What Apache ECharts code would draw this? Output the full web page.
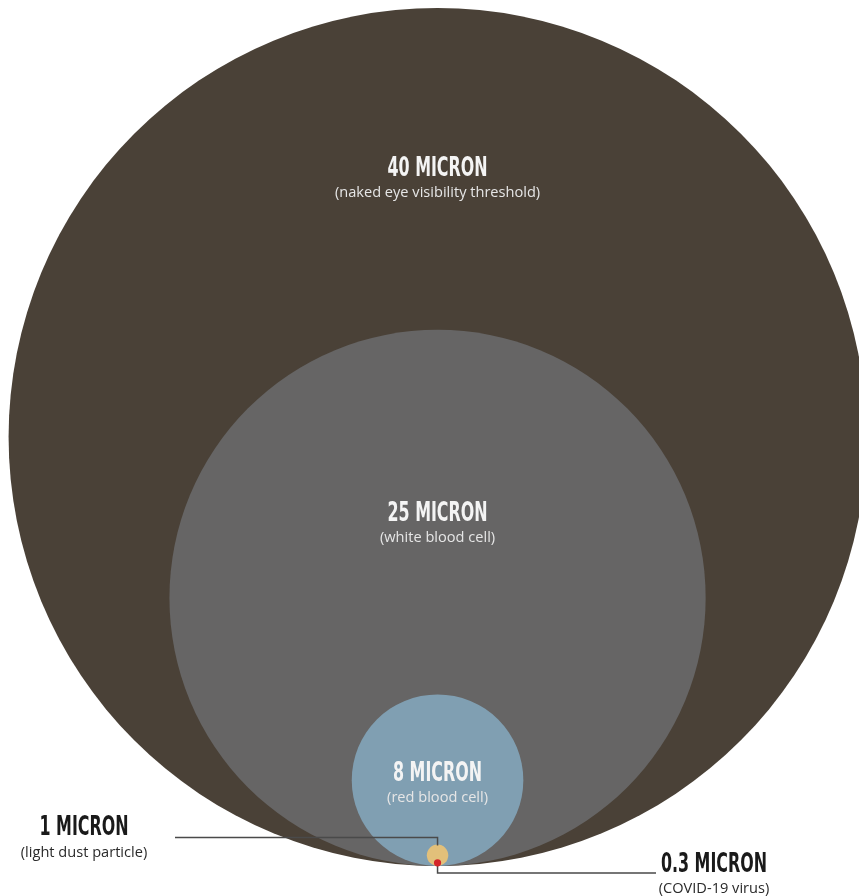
<!DOCTYPE html>
<html>
<head>
<meta charset="utf-8">
<script src="https://cdn.jsdelivr.net/npm/echarts@6/dist/echarts.min.js"></script>
<style>
html,body{margin:0;padding:0;background:#fff;}
#chart{width:859px;height:896px;}
</style>
</head>
<body>
<div id="chart"></div>
<script>
// ---- data ----
const sizesMicron = [40, 25, 8, 1, 0.3];
const titles = ['40 MICRON', '25 MICRON', '8 MICRON', '1 MICRON', '0.3 MICRON'];
const subtitles = ['(naked eye visibility threshold)', '(white blood cell)', '(red blood cell)', '(light dust particle)', '(COVID-19 virus)'];

// ---- styles / layout ----
const fills = ['#4a4137', '#666565', '#809fb2', '#e2c07a', '#d4262a'];
const TITLE_FONT = "'DejaVu Sans Condensed', 'DejaVu Sans', sans-serif";
const SUB_FONT = "'Open Sans', 'Noto Sans', sans-serif";
const TITLE_SCALE = 0.68;
const TITLE_DY = 2.5; // baseline correction
// label offsets (px) measured from top of each circle for inner labels
const innerLabelDy = [158.5, 182, 77];

const chart = echarts.init(document.getElementById('chart'));

function titleText(txt, x, y, fill) {
  return {
    type: 'text', x: x, y: y + TITLE_DY, scaleX: TITLE_SCALE,
    style: { text: txt, x: 0, y: 0, align: 'center', verticalAlign: 'middle',
      fill: fill, font: 'bold 26px ' + TITLE_FONT }
  };
}
function subText(txt, x, y, fill) {
  return {
    type: 'text',
    style: { text: txt, x: x, y: y + 1, align: 'center', verticalAlign: 'middle',
      fill: fill, font: '14.6px ' + SUB_FONT }
  };
}

function renderItem(params, api) {
  const i = params.dataIndex;
  const r = api.value(2);
  const c = api.coord([api.value(0), api.value(1)]);
  const rp = api.size([r, 0])[0];
  const children = [];
  const top = c[1] - rp;
  const bottom = c[1] + rp;
  if (i < 3) {
    children.push({ type: 'circle', shape: { cx: c[0], cy: c[1], r: rp }, style: { fill: fills[i] } });
    const ty = top + innerLabelDy[i];
    children.push(titleText(titles[i], c[0], ty, '#f4f4f4'));
    children.push(subText(subtitles[i], c[0], ty + 25, '#e6e6e6'));
  } else if (i === 3) {
    children.push({ type: 'circle', shape: { cx: c[0], cy: c[1], r: rp }, style: { fill: fills[i] } });
    const ly = top - 7;
    children.push({
      type: 'polyline',
      shape: { points: [[175, ly], [c[0], ly], [c[0], top + 1]] },
      style: { stroke: '#4a4a4a', lineWidth: 1.5, fill: null }
    });
    children.push(titleText(titles[i], 84, 826, '#1a1a1a'));
    children.push(subText(subtitles[i], 84, 852, '#2a2a2a'));
  } else {
    const ly = bottom + 7;
    children.push({
      type: 'polyline',
      shape: { points: [[c[0], c[1]], [c[0], ly], [656, ly]] },
      style: { stroke: '#4a4a4a', lineWidth: 1.5, fill: null }
    });
    children.push({ type: 'circle', shape: { cx: c[0], cy: c[1], r: rp + 0.4 }, style: { fill: fills[i] } });
    children.push(titleText(titles[i], 714, 863, '#1a1a1a'));
    children.push(subText(subtitles[i], 714, 888, '#2a2a2a'));
  }
  return { type: 'group', children: children };
}

chart.setOption({
  animation: false,
  grid: { left: 0, right: 0, top: 8, bottom: 30 },
  xAxis: { type: 'value', min: -40.8, max: 39.3, show: false },
  yAxis: { type: 'value', min: 0, max: 80, show: false },
  series: [{
    type: 'custom',
    clip: false,
    renderItem: renderItem,
    // center x = 0, center y = radius (all tangent at the bottom), radius
    data: sizesMicron.map(v => [0, v, v])
  }]
});
</script>
</body>
</html>
